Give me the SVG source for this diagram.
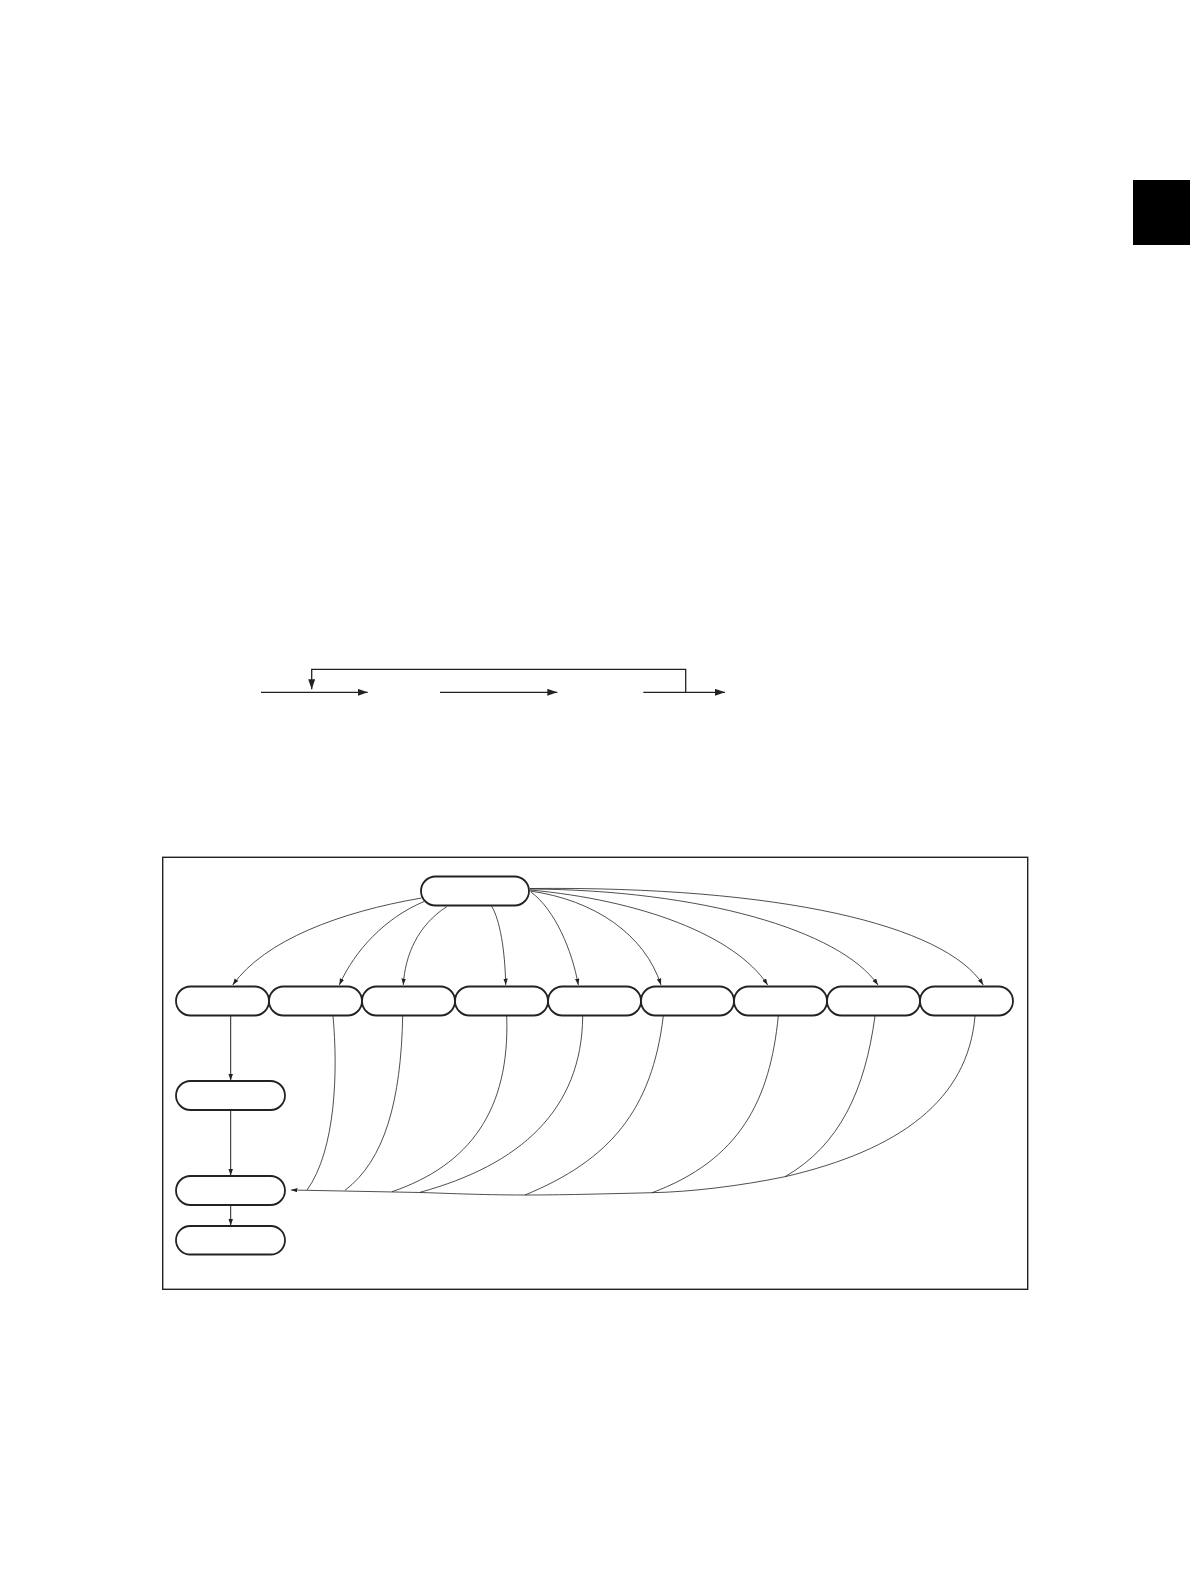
<svg xmlns="http://www.w3.org/2000/svg" width="1190" height="1584" viewBox="0 0 1190 1584">
<style>
.node{fill:#fff;stroke:#222;stroke-width:1.8}
.frame{fill:none;stroke:#222;stroke-width:1.4}
.thin{fill:none;stroke:#222;stroke-width:0.8}
.vert{fill:none;stroke:#222;stroke-width:1}
.flow{fill:none;stroke:#222;stroke-width:1.3}
</style>
<defs>
<marker id="ah" markerUnits="userSpaceOnUse" markerWidth="7" markerHeight="5" refX="6.5" refY="2.25" orient="auto">
<path d="M0,0 L6.5,2.25 L0,4.5 z" fill="#222"/>
</marker>
<marker id="ab" markerUnits="userSpaceOnUse" markerWidth="11" markerHeight="8" refX="10" refY="3.5" orient="auto">
<path d="M0,0 L10,3.5 L0,7 z" fill="#222"/>
</marker>
</defs>
<rect id="tab" x="1133" y="180" width="57" height="65" fill="#000"/>
<g id="flow">
<path class="flow" d="M261,692.3 H367.7" marker-end="url(#ab)"/>
<path class="flow" d="M440,692.3 H557.3" marker-end="url(#ab)"/>
<path class="flow" d="M643.3,692.3 H725" marker-end="url(#ab)"/>
<path class="flow" d="M685.7,692.3 V669.3 H311.7 V689.3" marker-end="url(#ab)"/>
</g>
<rect id="frame" class="frame" x="162.7" y="857.3" width="865" height="432"/>
<g id="connectors">
<path class="thin" d="M421.5,898 C340,912 265,940 232.7,985" marker-end="url(#ah)"/>
<path class="thin" d="M424,901.5 C385,918 355,950 339.3,985" marker-end="url(#ah)"/>
<path class="thin" d="M447,906.5 C418,925 405,955 403.3,985" marker-end="url(#ah)"/>
<path class="thin" d="M491.5,906 C500,920 505,950 505.7,985" marker-end="url(#ah)"/>
<path class="thin" d="M531,892 C555,910 572,950 578.3,985" marker-end="url(#ah)"/>
<path class="thin" d="M530,891 C595,900 645,935 661,985" marker-end="url(#ah)"/>
<path class="thin" d="M530,890 C640,900 735,935 767.7,985" marker-end="url(#ah)"/>
<path class="thin" d="M530,889 C700,890 840,930 878,985" marker-end="url(#ah)"/>
<path class="thin" d="M530,888.5 C780,886 945,925 983.3,985" marker-end="url(#ah)"/>
<path class="vert" d="M230.7,1016 V1080.5" marker-end="url(#ah)"/>
<path class="vert" d="M230.7,1110 V1175.5" marker-end="url(#ah)"/>
<path class="vert" d="M230.7,1205 V1225.5" marker-end="url(#ah)"/>
<path class="thin" d="M333,1016 C338,1070 336,1150 307,1190"/>
<path class="thin" d="M402.7,1016 C401,1100 385,1160 345,1190.3"/>
<path class="thin" d="M506.7,1016 C510,1110 470,1165 392,1191.7"/>
<path class="thin" d="M582.7,1016 C582,1110 520,1165 420,1192.3"/>
<path class="thin" d="M663.3,1016 C652,1110 610,1160 525,1195"/>
<path class="thin" d="M778.3,1016 C770,1100 740,1160 652,1192.7"/>
<path class="thin" d="M875,1016 C865,1090 840,1145 785,1176.7"/>
<path class="thin" d="M975,1016 C968,1100 900,1150 785,1176.7"/>
<path class="thin" d="M785,1176.7 C740,1186 690,1192 652,1192.7 C600,1194 560,1195 525,1195 C480,1195 440,1193 420,1192.5 L291,1190" marker-end="url(#ah)"/>
</g>
<g id="n-top"><rect class="node" x="421" y="876.5" width="108" height="29" rx="14.5"/></g>
<g id="n-r1"><rect class="node" x="176" y="986.5" width="93" height="29" rx="14.5"/></g>
<g id="n-r2"><rect class="node" x="269" y="986.5" width="93" height="29" rx="14.5"/></g>
<g id="n-r3"><rect class="node" x="362" y="986.5" width="93" height="29" rx="14.5"/></g>
<g id="n-r4"><rect class="node" x="455" y="986.5" width="93" height="29" rx="14.5"/></g>
<g id="n-r5"><rect class="node" x="548" y="986.5" width="93" height="29" rx="14.5"/></g>
<g id="n-r6"><rect class="node" x="641" y="986.5" width="93" height="29" rx="14.5"/></g>
<g id="n-r7"><rect class="node" x="734" y="986.5" width="93" height="29" rx="14.5"/></g>
<g id="n-r8"><rect class="node" x="827" y="986.5" width="93" height="29" rx="14.5"/></g>
<g id="n-r9"><rect class="node" x="920" y="986.5" width="93" height="29" rx="14.5"/></g>
<g id="n-a"><rect class="node" x="176" y="1081" width="109" height="29" rx="14.5"/></g>
<g id="n-b"><rect class="node" x="176" y="1176" width="109" height="29" rx="14.5"/></g>
<g id="n-c"><rect class="node" x="176" y="1226" width="109" height="28.5" rx="14.25"/></g>
</svg>
